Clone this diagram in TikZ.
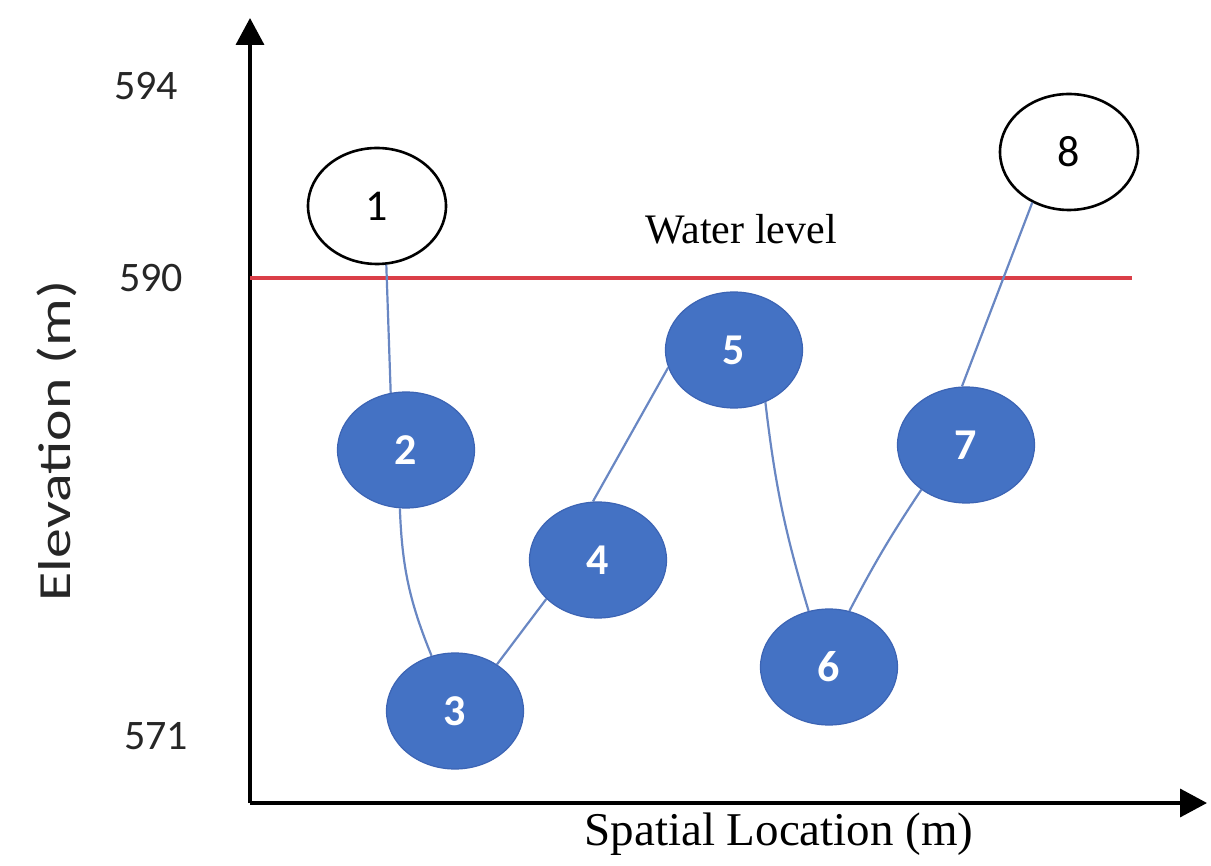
\documentclass[tikz,border=0pt]{standalone}
\usepackage{fontspec}
\setmainfont{Liberation Serif}
\newfontfamily\calib{Carlito}
\usetikzlibrary{shapes.geometric,arrows.meta}
\definecolor{nodeblue}{RGB}{68,114,196}
\definecolor{nodeedge}{RGB}{60,100,180}
\definecolor{linkblue}{RGB}{105,135,195}
\definecolor{waterred}{RGB}{218,62,72}
\tikzset{
  bluenode/.style={ellipse, fill=nodeblue, draw=nodeedge, line width=1.2pt,
    minimum width=137pt, minimum height=116pt, inner sep=0pt,
    text=white, font=\calib\bfseries\fontsize{44}{44}\selectfont},
  whitenode/.style={ellipse, fill=white, draw=black, line width=2.6pt,
    minimum width=138pt, minimum height=116pt, inner sep=0pt,
    text=black, font=\calib\fontsize{44}{44}\selectfont},
  link/.style={draw=linkblue, line width=2.2pt},
  axis/.style={draw=black, line width=3.6pt, -{Triangle[length=27pt,width=28pt]}},
  ticklabel/.style={font=\calib\fontsize{42}{42}\selectfont, text=black!85, inner sep=0pt},
}
\begin{document}
\begin{tikzpicture}[x=1pt,y=-1pt]
\useasboundingbox (0,0) rectangle (1211,866);
% axes
\coordinate (origin) at (250,803);
\coordinate (ytip) at (250,18);
\coordinate (xtip) at (1207,803);
\draw[axis] (origin) -- (ytip);
\draw[axis] (origin) -- (xtip);
% water level
\coordinate (wl0) at (250,278);
\coordinate (wl1) at (1132,278);
\draw[draw=waterred, line width=3.6pt] (wl0) -- (wl1);
\node[font=\fontsize{42}{42}\selectfont, inner sep=0pt] (wltext) at (741,229) {Water level};
% tick labels
\node[ticklabel] (t594) at (146,86) {594};
\node[ticklabel] (t590) at (151,278) {590};
\node[ticklabel] (t571) at (156,736) {571};
% axis labels
\node[rotate=90, inner sep=0pt, font=\calib\fontsize{46}{46}\selectfont, text=black!85] (ylab) at (57,441) {\scalebox{1.3}[1]{Elevation (m)}};
\node[inner sep=0pt, font=\fontsize{47}{47}\selectfont] (xlab) at (779,834) {Spatial Location (m)};
% nodes
\node[whitenode] (n1) at (377,206) {1};
\node[bluenode] (n2) at (406,450) {2};
\node[bluenode] (n3) at (455,711) {3};
\node[bluenode] (n4) at (598,560) {4};
\node[bluenode] (n5) at (734,350) {5};
\node[bluenode] (n6) at (829,667) {6};
\node[bluenode] (n7) at (966,445) {7};
\node[whitenode] (n8) at (1069,152) {8};
% links
\draw[link] (n1.-81) -- (n2.105);
\draw[link] (n2.-96) to[bend right=10] (n3.113);
\draw[link] (n3.48) -- (n4.217);
\draw[link] (n4.95) -- (n5.195);
\draw[link] (n5.-59) to[bend right=5] (n6.110);
\draw[link] (n6.70) to[bend left=3] (n7.225);
\draw[link] (n7.94) -- (n8.234);
\end{tikzpicture}
\end{document}
